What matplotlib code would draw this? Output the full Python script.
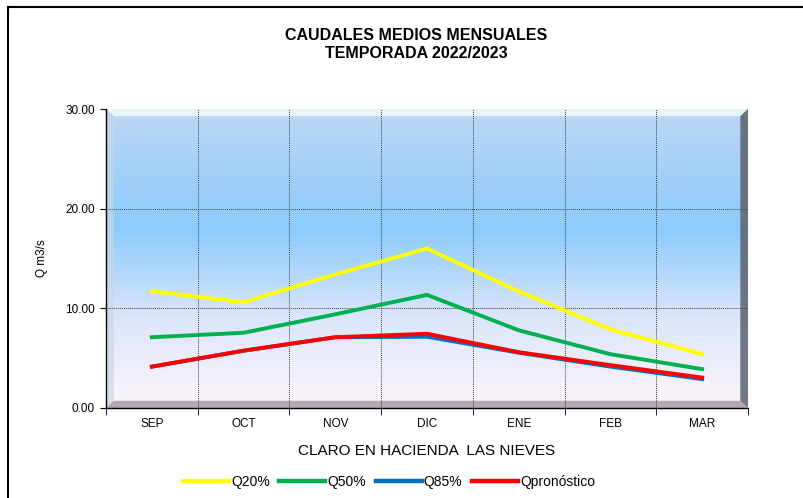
import numpy as np
import matplotlib.pyplot as plt
from matplotlib.colors import LinearSegmentedColormap
from matplotlib.patches import Polygon

plt.rcParams['font.family'] = ['Liberation Sans', 'DejaVu Sans']

meses = ["SEP", "OCT", "NOV", "DIC", "ENE", "FEB", "MAR"]
q20 = [11.7, 10.6, 13.4, 16.0, 11.7, 7.9, 5.4]
q50 = [7.1, 7.55, 9.4, 11.35, 7.8, 5.4, 3.9]
q85 = [4.15, 5.75, 7.1, 7.15, 5.55, 4.15, 2.9]
qpron = [4.15, 5.75, 7.1, 7.45, 5.6, 4.3, 3.05]

series = [
    ("Q20%", q20, "#ffff00"),
    ("Q50%", q50, "#00b050"),
    ("Q85%", q85, "#0070c0"),
    ("Qpronóstico", qpron, "#ff0000"),
]

fig = plt.figure(figsize=(8.04, 4.98), dpi=100)
# outer frame (only left and top visible, like the screenshot crop)
fig.add_artist(plt.Line2D([8/804, 8/804], [0, 1 - 7/498], color="black", lw=1.5))
fig.add_artist(plt.Line2D([8/804, 1], [1 - 7/498, 1 - 7/498], color="black", lw=1.5))

ax = fig.add_axes([106/804, 1 - 408/498, 642/804, 299/498])
ax.set_xlim(-0.5, len(meses) - 0.5)
ax.set_ylim(0, 30)

# background gradient
grad = LinearSegmentedColormap.from_list("fondo", [
    (0.0, "#fff5fb"), (0.3, "#dbe6fa"), (0.6, "#8ccbfc"), (1.0, "#bed6f3")])
img = np.linspace(0, 1, 256).reshape(-1, 1)
ax.imshow(img, cmap=grad, origin="lower", aspect="auto",
          extent=[0, 1, 0, 1], transform=ax.transAxes, zorder=0)

# bevel edges
bx, by = 0.012, 0.024
bevel = [
    ([(0, 1), (1, 1), (1 - bx, 1 - by), (bx, 1 - by)], "#f2fbff", 0.85),
    ([(0, 0), (0, 1), (bx, 1 - by), (bx, by)], "#c9d6e6", 0.7),
    ([(1, 0), (1, 1), (1 - bx, 1 - by), (1 - bx, by)], "#5b6270", 0.85),
    ([(0, 0), (1, 0), (1 - bx, by), (bx, by)], "#a89aa8", 0.85),
]
for pts, c, a in bevel:
    ax.add_patch(Polygon(pts, closed=True, transform=ax.transAxes,
                         facecolor=c, edgecolor="none", alpha=a, zorder=1))

x = np.arange(len(meses))
for nombre, vals, color in series:
    ax.plot(x, vals, color=color, lw=2.8, label=nombre, zorder=3,
            solid_joinstyle="miter")

# grid at category boundaries
for b in np.arange(0.5, len(meses) - 0.5):
    ax.axvline(b, color="#404040", ls=(0, (1, 1)), lw=0.7, zorder=2)
for yv in [10, 20]:
    ax.axhline(yv, color="#404040", ls=(0, (1, 1)), lw=0.7, zorder=2)

ax.set_yticks([0, 10, 20, 30])
ax.set_yticklabels([f"{v:.2f}" for v in [0, 10, 20, 30]], fontsize=8.5)
ax.set_xticks(x)
ax.set_xticklabels(meses, fontsize=8.5)
ax.set_xticks(np.arange(-0.5, len(meses)), minor=True)
ax.tick_params(axis="x", which="major", length=0, pad=7)
ax.tick_params(axis="x", which="minor", length=5, direction="out")
ax.tick_params(axis="y", length=4, direction="out", pad=4)
for s in ["top", "right"]:
    ax.spines[s].set_visible(False)
ax.spines["left"].set_linewidth(1.0)
ax.spines["bottom"].set_linewidth(1.0)

ax.set_ylabel("Q m3/s", fontsize=8.5, labelpad=12)
ax.set_xlabel("CLARO EN HACIENDA  LAS NIEVES", fontsize=11, labelpad=10)

fig.text(416/804, 1 - 36/498, "CAUDALES MEDIOS MENSUALES", ha="center",
         va="center", fontsize=11.5, fontweight="bold")
fig.text(416/804, 1 - 53/498, "TEMPORADA 2022/2023", ha="center",
         va="center", fontsize=11.5, fontweight="bold")

leg = fig.legend(loc="center", bbox_to_anchor=(389/804, 1 - 482/498), ncol=4,
                 frameon=False, fontsize=10, handlelength=3.3,
                 handletextpad=0.15, columnspacing=0.7)
for h in leg.legend_handles:
    h.set_linewidth(3.2)

fig.savefig("out.png", dpi=100)
